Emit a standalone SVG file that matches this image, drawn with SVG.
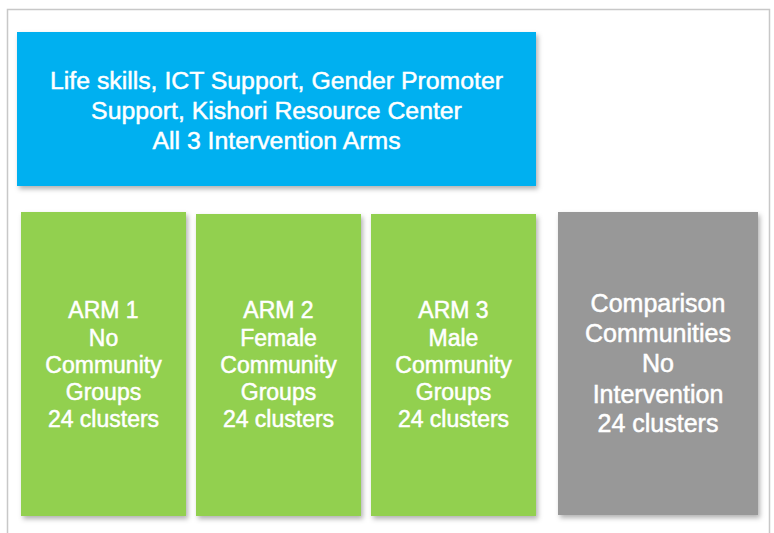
<svg xmlns="http://www.w3.org/2000/svg" width="774" height="533" viewBox="0 0 774 533">
  <defs>
    <filter id="sh" x="-10%" y="-10%" width="125%" height="125%">
      <feDropShadow dx="2" dy="3" stdDeviation="2.5" flood-color="#000" flood-opacity="0.3"/>
    </filter>
  </defs>
  <style>
    .box { filter: url(#sh); }
    .blue { fill: #00B0F0; }
    .green { fill: #92D050; }
    .gray { fill: #989898; }
    text { font-family: "Liberation Sans", Arial, sans-serif; fill: #ffffff; stroke: #ffffff; stroke-width: 0.5; text-anchor: middle; }
    .t1 { font-size: 24.8px; }
    .t2 { font-size: 23px; }
    .t3 { font-size: 25px; }
    .frame { fill: none; stroke: #c8c8c8; stroke-width: 1.5; }
  </style>
  <rect width="774" height="533" fill="#ffffff"/>
  <path class="frame" d="M7.5,533 V9.5 H769.5 V533"/>
  <g id="top">
    <rect class="box blue" x="17" y="32" width="519" height="154"/>
    <text class="t1" x="276.5" y="89.3">Life skills, ICT Support, Gender Promoter</text>
    <text class="t1" x="276.5" y="119.3">Support, Kishori Resource Center</text>
    <text class="t1" x="276.5" y="149.3">All 3 Intervention Arms</text>
  </g>
  <g id="arm1">
    <rect class="box green" x="21" y="212" width="165" height="304"/>
    <text class="t2" x="103.5" y="318.3">ARM 1</text>
    <text class="t2" x="103.5" y="345.5">No</text>
    <text class="t2" x="103.5" y="372.7">Community</text>
    <text class="t2" x="103.5" y="399.9">Groups</text>
    <text class="t2" x="103.5" y="427">24 clusters</text>
  </g>
  <g id="arm2">
    <rect class="box green" x="196" y="214" width="165" height="302"/>
    <text class="t2" x="278.5" y="318.3">ARM 2</text>
    <text class="t2" x="278.5" y="345.5">Female</text>
    <text class="t2" x="278.5" y="372.7">Community</text>
    <text class="t2" x="278.5" y="399.9">Groups</text>
    <text class="t2" x="278.5" y="427">24 clusters</text>
  </g>
  <g id="arm3">
    <rect class="box green" x="371" y="214" width="165" height="302"/>
    <text class="t2" x="453.5" y="318.3">ARM 3</text>
    <text class="t2" x="453.5" y="345.5">Male</text>
    <text class="t2" x="453.5" y="372.7">Community</text>
    <text class="t2" x="453.5" y="399.9">Groups</text>
    <text class="t2" x="453.5" y="427">24 clusters</text>
  </g>
  <g id="comparison">
    <rect class="box gray" x="558" y="212" width="200" height="303"/>
    <text class="t3" x="658" y="312.3">Comparison</text>
    <text class="t3" x="658" y="342.3">Communities</text>
    <text class="t3" x="658" y="372.3">No</text>
    <text class="t3" x="658" y="402.5">Intervention</text>
    <text class="t3" x="658" y="432.3">24 clusters</text>
  </g>
  <g id="connectors"/>
</svg>
